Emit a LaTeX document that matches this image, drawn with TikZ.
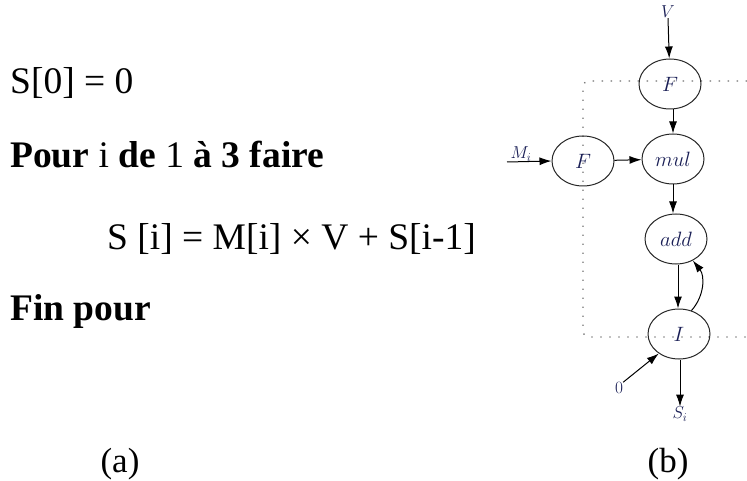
\documentclass[tikz,border=0pt]{standalone}
\usepackage{fontspec}
\setmainfont{Liberation Serif}
\usepackage{tikz}
\usetikzlibrary{positioning,shapes.geometric,arrows.meta}
\definecolor{LabBlue}{RGB}{25,30,85}
\definecolor{DotGray}{RGB}{110,110,110}
\tikzset{
  algo/.style={anchor=base west,inner sep=0pt,font=\fontsize{37.5}{42}\selectfont},
  op/.style={ellipse,draw=black!85,line width=1pt,minimum width=62pt,minimum height=50pt,
    inner sep=0pt,text=LabBlue,font=\fontsize{22}{26}\selectfont},
  lab/.style={inner sep=0pt,text=LabBlue,font=\fontsize{18}{21}\selectfont},
  flow/.style={draw=black,line width=1pt,-{Latex[length=12pt,width=8pt]}},
  loopline/.style={draw=DotGray,line width=1.3pt,dash pattern=on 1.3pt off 7.7pt,rounded corners=6pt},
}
\begin{document}
\begin{tikzpicture}[x=1pt,y=-1pt]
  \useasboundingbox (0,0) rectangle (747,481);
  % (a) the loop
  \node[algo] (s0) at (10,94) {S[0] = 0};
  \node[algo] (pour) at (10,168) {\textbf{Pour} i \textbf{de} 1 \textbf{à 3 faire}};
  \node[algo] (body) at (107,250) {S [i] = M[i] × V + S[i-1]};
  \node[algo] (fin) at (10,320) {\textbf{Fin pour}};
  \node[inner sep=0pt,font=\fontsize{35}{40}\selectfont] (capa) at (120,464) {(a)};
  % (b) the graph
  \draw[loopline] (747,81) -- (583,81) -- (583,337) -- (747,337);
  \node[op] (fv) at (670,84) {$F$};
  \node[op] (fm) at (583,161) {$F$};
  \node[op] (mul) at (673,159) {$mul$};
  \node[op] (add) at (676,239) {$add$};
  \node[op] (it) at (679,334) {$I$};
  \node[lab] (v) at (668,12) {$V$};
  \node[lab] (mi) at (521,154) {$M_i$};
  \coordinate (mi0) at (507,162);
  \node[lab] (zero) at (619,388) {$0$};
  \node[lab] (si) at (680,414) {$S_i$};
  \draw[flow] (v.south) -- (fv);
  \draw[flow] (mi0) -- (fm.west);
  \draw[flow] (fv.south -| mul) -- (mul);
  \draw[flow] (fm) -- (mul);
  \draw[flow] (mul) -- (mul.south |- add.north);
  \draw[flow] (add.south -| 678,0) -- (it.north -| 678,0);
  \draw[flow] (it.62) to[bend right=40] (add.-52);
  \draw[flow] (zero.north east) -- (it.-136);
  \draw[flow] (it.south -| si) -- (si.north);
  \node[inner sep=0pt,font=\fontsize{35}{40}\selectfont] (capb) at (668,464) {(b)};
\end{tikzpicture}
\end{document}
